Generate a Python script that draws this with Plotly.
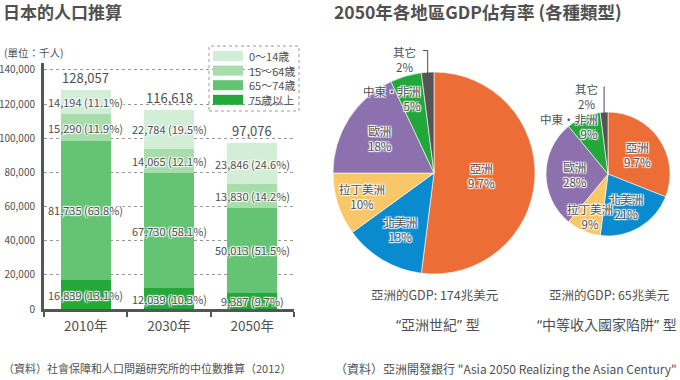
import math
import plotly.graph_objects as go

W, H = 680, 380
# ---------------- data ----------------
years = ["2010年", "2030年", "2050年"]
totals = [128057, 116618, 97076]
# stacked bottom -> top
stack_names = ["75歳以上", "65～74歳", "15～64歳", "0～14歳"]
seg_75plus = [16839, 12039, 9387]
seg_65_74 = [81735, 67730, 50013]
seg_15_64 = [15290, 14065, 13830]
seg_0_14 = [14194, 22784, 23846]
pct_75plus = ["13.1%", "10.3%", "9.7%"]
pct_65_74 = ["63.8%", "58.1%", "51.5%"]
pct_15_64 = ["11.9%", "12.1%", "14.2%"]
pct_0_14 = ["11.1%", "19.5%", "24.6%"]
y_ticks = [0, 20000, 40000, 60000, 80000, 100000, 120000, 140000]

regions = ["亞洲", "北美洲", "拉丁美洲", "歐洲", "中東·非洲", "其它"]
share_asia_century = [52, 13, 10, 18, 5, 2]
share_middle_trap = [31, 21, 9, 28, 9, 2]
label_asia_century = ["9.7%", "13%", "10%", "18%", "5%", "2%"]
label_middle_trap = ["9.7%", "21%", "9%", "28%", "9%", "2%"]
gdp_asia = ["亞洲的GDP: 174兆美元", "亞洲的GDP: 65兆美元"]
scenario_names = ["亞洲世紀", "中等收入國家陷阱"]

# ---------------- style ----------------
FONT = "Noto Sans CJK TC, Noto Sans, sans-serif"
TXT = "#505050"
green_cols = ["#25a83a", "#64c474", "#a7dcab", "#d3eed6"]  # bottom -> top
pie_cols = ["#ec6d36", "#0b8bcf", "#f8c768", "#8d70ae", "#22a83a", "#555555"]
HALO = "1px 1px 1px #fff, -1px -1px 1px #fff, 1px -1px 1px #fff, -1px 1px 1px #fff, 0 0 2px #fff"


def px(x):
    return x / W


def py(y):
    return 1 - y / H


def note(x, y, text, size, xanchor="center", halo=False, **kw):
    font = dict(size=size, color=TXT, family=FONT)
    if halo:
        font["shadow"] = HALO
    d = dict(x=px(x), y=py(y), xref="paper", yref="paper", text=text, showarrow=False,
             xanchor=xanchor, yanchor="middle", font=font)
    d.update(kw)
    return d


def latin(s):
    return f"<span style=\"font-family:'Noto Sans'\">{s}</span>"


fig = go.Figure()
stack_vals = [seg_75plus, seg_65_74, seg_15_64, seg_0_14]
stack_pcts = [pct_75plus, pct_65_74, pct_15_64, pct_0_14]
for name, vals, col in zip(stack_names, stack_vals, green_cols):
    fig.add_trace(go.Bar(x=years, y=vals, name=name, marker_color=col,
                         marker_line_width=0, showlegend=False,
                         xaxis="x", yaxis="y"))

annotations = []
# segment labels
for i, yr in enumerate(years):
    base = 0
    for vals, pcts in zip(stack_vals, stack_pcts):
        v = vals[i]
        annotations.append(dict(x=yr, y=base + v / 2, xref="x", yref="y",
                                text=f"{v:,} ({pcts[i]})", showarrow=False,
                                xanchor="center", yanchor="middle",
                                font=dict(size=11, color=TXT, family=FONT, shadow=HALO)))
        base += v
    annotations.append(dict(x=yr, y=totals[i], xref="x", yref="y", text=f"{totals[i]:,}",
                            showarrow=False, xanchor="center", yanchor="bottom", yshift=1,
                            font=dict(size=13, color=TXT, family=FONT)))

# pies
pies = [
    dict(vals=share_asia_century, labs=label_asia_century, cx=434, cy=173, r=101,
         fr=[0.47, 0.65, 0.75, 0.63, 0.70, None], other_lbl=(404, 59.5)),
    dict(vals=share_middle_trap, labs=label_middle_trap, cx=608, cy=174, r=62,
         fr=[0.57, 0.60, 0.74, 0.54, 0.71, None], other_lbl=(586, 96)),
]
shapes = []
for k, p in enumerate(pies):
    fig.add_trace(go.Pie(values=p["vals"], labels=regions, sort=False, direction="clockwise",
                         rotation=0, textinfo="none", hoverinfo="label+value",
                         marker=dict(colors=pie_cols, line=dict(color="#ffffff", width=0.6)),
                         domain=dict(x=[px(p["cx"] - p["r"]), px(p["cx"] + p["r"])],
                                     y=[py(p["cy"] + p["r"]), py(p["cy"] - p["r"])]),
                         showlegend=False))
    tot = sum(p["vals"])
    cum = 0
    for j, (reg, v, lab) in enumerate(zip(regions, p["vals"], p["labs"])):
        mid = (cum + v / 2) / tot * 2 * math.pi
        cum += v
        if p["fr"][j] is None:
            # leader line to the "other" slice
            lx = p["cx"] + p["r"] * math.sin(mid)
            ly_top = p["cy"] - p["r"] * math.cos(mid) + 3
            ox, oy = p["other_lbl"]
            path = f"M {px(ox + 19)} {py(oy - 9)} L {px(lx)} {py(oy - 9)} L {px(lx)} {py(ly_top)}"
            shapes.append(dict(type="path", xref="paper", yref="paper", path=path,
                               line=dict(color=TXT, width=1)))
            annotations.append(note(ox, oy, f"{reg}<br>{lab}", 11.5))
            continue
        f = p["fr"][j]
        lx = p["cx"] + p["r"] * f * math.sin(mid)
        ly = p["cy"] - p["r"] * f * math.cos(mid)
        if reg == "中東·非洲":
            annotations.append(note(lx, ly, f"{reg}<br>{lab}", 11.5, xanchor="right", halo=True,
                                    align="right", xshift=9, yshift=7))
        else:
            annotations.append(note(lx, ly, f"{reg}<br>{lab}", 11.5, halo=True))
    annotations.append(note([435, 609][k], 294, gdp_asia[k], 12.5))
    annotations.append(note([438, 607][k], 324,
                            latin("“") + scenario_names[k] + latin("” ") + "型", 14))

# legend (manual, dashed box)
shapes.append(dict(type="rect", xref="paper", yref="paper", x0=px(209), x1=px(299),
                   y0=py(111), y1=py(46), line=dict(color="#999999", width=1, dash="dot")))
legend_order = list(zip(stack_names, green_cols))[::-1]
for i, (name, col) in enumerate(legend_order):
    yc = 56 + i * 14.6
    shapes.append(dict(type="rect", xref="paper", yref="paper", x0=px(213), x1=px(243),
                       y0=py(yc + 5), y1=py(yc - 5), fillcolor=col, line=dict(width=0)))
    annotations.append(note(247, yc, name, 11, xanchor="left"))

# titles and notes
annotations += [
    note(1, 12, "<b>日本的人口推算</b>", 17, xanchor="left"),
    note(332, 12, "<b>2050年各地區GDP佔有率 (各種類型)</b>", 17.5, xanchor="left"),
    note(2, 53, "(單位：千人)", 10.5, xanchor="left"),
    note(1, 368, "（資料）社會保障和人口問題研究所的中位數推算（2012）", 11, xanchor="left"),
    note(333, 368, "（資料）亞洲開發銀行 \"Asia 2050 Realizing the Asian Century\"", 12,
         xanchor="left"),
]

fig.update_layout(
    template="none",
    width=W, height=H, margin=dict(l=0, r=0, t=0, b=0, pad=0, autoexpand=False),
    paper_bgcolor="white", plot_bgcolor="white",
    barmode="stack", bargap=0.4,
    font=dict(family=FONT, color=TXT),
    xaxis=dict(domain=[px(44), px(294)], range=[-0.5, 2.5], showline=True, linecolor="#555555",
               linewidth=3, ticks="outside", tickson="boundaries", ticklen=5, tickwidth=1.5,
               tickcolor="#555555", tickfont=dict(size=13.5, color=TXT), showgrid=False,
               ticklabelstandoff=3, fixedrange=True, automargin=False),
    yaxis=dict(domain=[py(309), py(63)], range=[0, 144000], tickvals=y_ticks, tickformat=",",
               showline=True, linecolor="#555555", linewidth=3, ticks="", showgrid=True,
               gridcolor="#999999", griddash="dot", gridwidth=1, zeroline=False,
               tickfont=dict(size=10, color=TXT), ticklabelstandoff=4, fixedrange=True,
               automargin=False),
    annotations=annotations, shapes=shapes,
)

fig.write_html("out.html", config={"displayModeBar": False},
               post_script="document.body.style.margin='0';")
